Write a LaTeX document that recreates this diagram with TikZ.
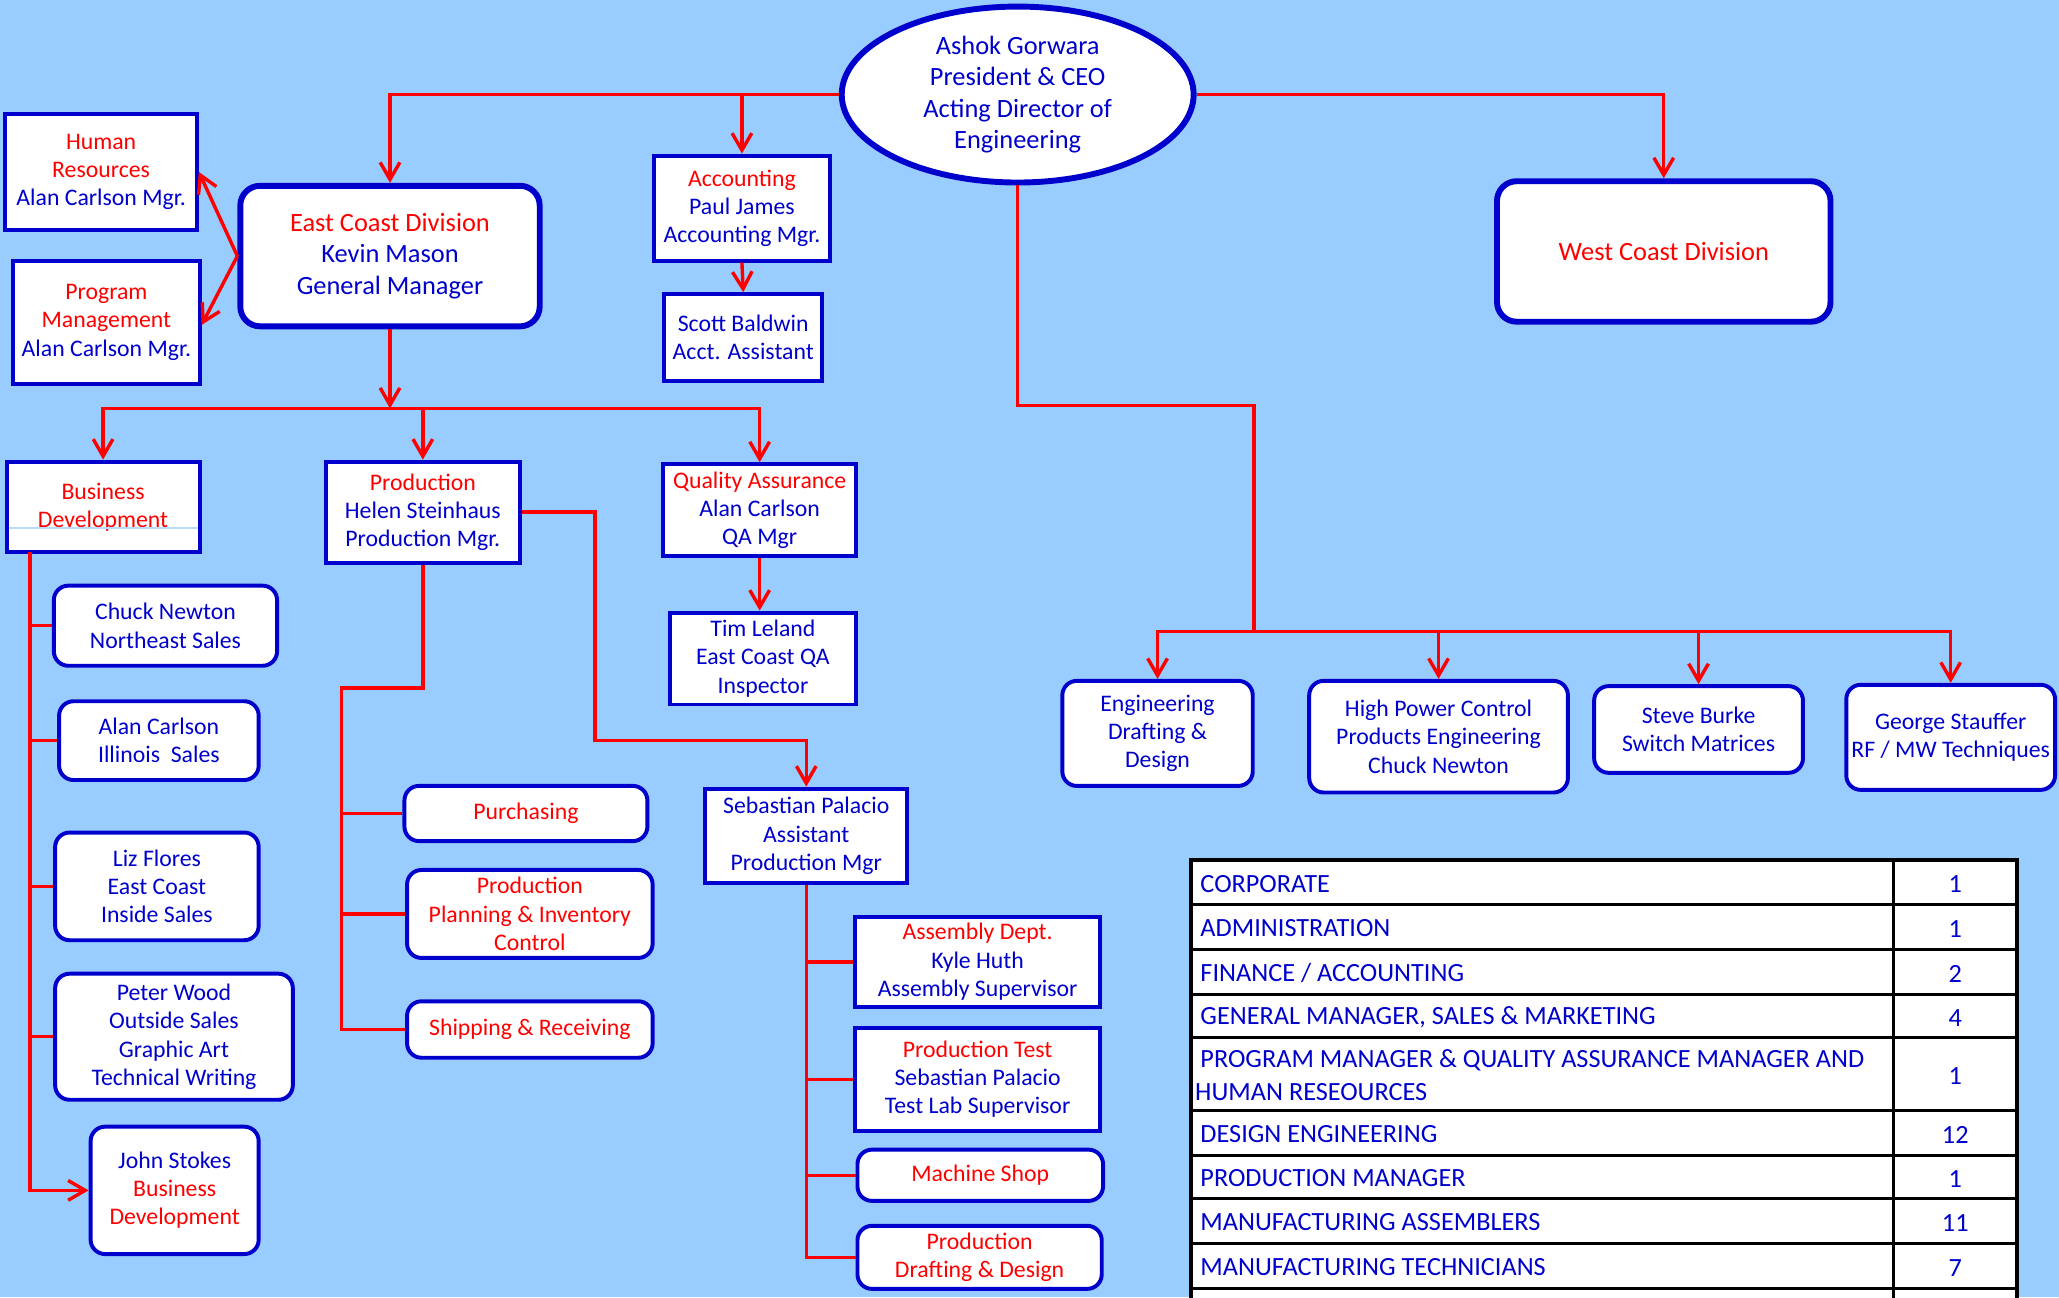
\documentclass[tikz,border=0pt]{standalone}
\usepackage{fontspec}
\setmainfont{Carlito}
\usetikzlibrary{arrows.meta,shapes.geometric}
\definecolor{bg}{RGB}{153,204,255}
\definecolor{bl}{RGB}{0,0,204}
\definecolor{rd}{RGB}{255,0,0}
\newcommand\smallfnt{\fontsize{18.1}{21.5}\selectfont}
\newcommand\bigfnt{\fontsize{20.1}{24}\selectfont}
\newcommand\tabfnt{\fontsize{20}{25}\selectfont}
\newcommand\redtx[1]{\textcolor{rd}{#1}}
\begin{document}
\begin{tikzpicture}[x=1pt,y=-1pt,
  sqbox/.style={draw=bl,line width=3,fill=white,inner sep=0,align=center,text=bl,font=\smallfnt},
  rndbox/.style={sqbox,rounded corners=11},
  bigbox/.style={sqbox,line width=4.5,rounded corners=15,font=\bigfnt},
  con/.style={draw=rd,line width=2.6},
  arr/.style={con,-{Straight Barb[length=13pt,width=15pt]}},
  tline/.style={draw=black,line width=2.2},
  ttxt/.style={anchor=west,text=bl,font=\tabfnt,inner sep=0,align=left},
  tnum/.style={text=bl,font=\tabfnt,inner sep=0}]
\useasboundingbox (0,0) rectangle (1568,988);
\clip (0,0) rectangle (1568,988);
\fill[bg] (0,0) rectangle (1568,988);

% top level
\node[ellipse,draw=bl,line width=4.5,fill=white,minimum width=268,minimum height=134,inner sep=0,
      font=\bigfnt,text=bl,align=center] (ceo) at (775,72)
  {Ashok Gorwara\\President \& CEO\\Acting Director of\\Engineering};
\node[bigbox,minimum width=228,minimum height=107] (ecd) at (297,195)
  {\redtx{East Coast Division}\\Kevin Mason\\General Manager};
\node[bigbox,minimum width=254,minimum height=107] (wcd) at (1267,191.5)
  {\redtx{West Coast Division}};
\node[sqbox,minimum width=146,minimum height=88] (hr) at (77,131)
  {\redtx{Human}\\\redtx{Resources}\\Alan Carlson Mgr.};
\node[sqbox,minimum width=142,minimum height=94] (pm) at (81,245.5)
  {\redtx{Program}\\\redtx{Management}\\Alan Carlson Mgr.};
\node[sqbox,minimum width=134,minimum height=80] (acc) at (565,158.5)
  {\redtx{Accounting}\\Paul James\\Accounting Mgr.};
\node[sqbox,minimum width=120,minimum height=66] (sb) at (566,257)
  {Scott Baldwin\\Acct. Assistant};

% second level
\node[sqbox,minimum width=147,minimum height=69] (bd) at (78.5,386)
  {\redtx{Business}\\\redtx{Development}};
\draw[bg!70!white,line width=1] ([xshift=3]bd.west |- 0,402) -- ([xshift=-3]bd.east |- 0,402);
\node[sqbox,minimum width=148,minimum height=77] (prod) at (322,390)
  {\redtx{Production}\\Helen Steinhaus\\Production Mgr.};
\node[sqbox,minimum width=147,minimum height=70] (qa) at (578.5,388.5)
  {\redtx{Quality Assurance}\\Alan Carlson\\QA Mgr};
\node[sqbox,minimum width=142,minimum height=70] (tim) at (581,501.5)
  {Tim Leland\\East Coast QA\\Inspector};

% business development children
\node[rndbox,minimum width=170,minimum height=61] (cn) at (126,476.5) {Chuck Newton\\Northeast Sales};
\node[rndbox,minimum width=152,minimum height=60] (ac) at (121,564) {Alan Carlson\\Illinois\ \ Sales};
\node[rndbox,minimum width=155,minimum height=82] (lf) at (119.5,675) {Liz Flores\\East Coast\\Inside Sales};
\node[rndbox,minimum width=181,minimum height=96] (pw) at (132.5,789.5)
  {Peter Wood\\Outside Sales\\Graphic Art\\Technical Writing};
\node[rndbox,minimum width=128,minimum height=97] (js) at (133,906.5)
  {John Stokes\\\redtx{Business}\\\redtx{Development}};

% production children
\node[rndbox,minimum width=185,minimum height=42] (purch) at (400.5,619.5) {\redtx{Purchasing}};
\node[rndbox,minimum width=187,minimum height=67] (ppic) at (403.5,696)
  {\redtx{Production}\\\redtx{Planning \& Inventory}\\\redtx{Control}};
\node[rndbox,minimum width=187,minimum height=43] (ship) at (403.5,784) {\redtx{Shipping \& Receiving}};
\node[sqbox,minimum width=154,minimum height=72] (sp) at (614,636.5)
  {Sebastian Palacio\\Assistant\\Production Mgr};
\node[sqbox,minimum width=187,minimum height=68] (asm) at (744.5,732.5)
  {\redtx{Assembly Dept.}\\Kyle Huth\\Assembly Supervisor};
\node[sqbox,minimum width=187,minimum height=79] (pt) at (744.5,822)
  {\redtx{Production Test}\\Sebastian Palacio\\Test Lab Supervisor};
\node[rndbox,minimum width=187,minimum height=39] (ms) at (746.5,895) {\redtx{Machine Shop}};
\node[rndbox,minimum width=186,minimum height=48] (pdd) at (746,957.5)
  {\redtx{Production}\\\redtx{Drafting \& Design}};

% engineering
\node[rndbox,minimum width=145,minimum height=80] (edd) at (881.5,558.5) {Engineering\\Drafting \&\\Design};
\node[rndbox,minimum width=197,minimum height=85] (hpc) at (1095.5,561)
  {High Power Control\\Products Engineering\\Chuck Newton};
\node[rndbox,minimum width=159,minimum height=66] (sbk) at (1293.5,555.5) {Steve Burke\\Switch Matrices};
\node[rndbox,minimum width=159,minimum height=80] (gs) at (1485.5,561.5) {George Stauffer\\RF / MW Techniques};

% connectors from CEO
\coordinate (jA) at (565,72);
\draw[arr] (ceo.west) -| (ecd.north);
\draw[arr] (jA) -- (acc.north);
\draw[arr] (ceo.east) -| (wcd.north);
\coordinate (jE) at (955,309);
\coordinate (eBar) at (955,481);
\draw[con] (ceo.south) |- (jE) -- (eBar);
\draw[arr] (eBar) -| (edd.north);
\draw[arr] (eBar) -| (gs.north);
\draw[arr] (hpc.north |- eBar) -- (hpc.north);
\draw[arr] (sbk.north |- eBar) -- (sbk.north);

% East coast division
\draw[arr] (ecd.west) -- (hr.east);
\draw[arr] (ecd.west) -- ([yshift=-2]pm.east);
\draw[arr] (acc.south) -- (sb.north);
\coordinate (ecdBar) at (297,311);
\draw[arr] (ecd.south) -- (ecdBar);
\draw[arr] (ecdBar) -| (bd.north);
\draw[arr] (ecdBar) -| (qa.north);
\draw[arr] (prod.north |- ecdBar) -- (prod.north);
\draw[arr] (qa.south) -- (qa.south |- tim.north);

% business development tree
\coordinate (bdTop) at (23,420);
\draw[con] (bdTop) |- (cn.west);
\draw[con] (bdTop) |- (ac.west);
\draw[con] (bdTop) |- (lf.west);
\draw[con] (bdTop) |- (pw.west);
\draw[arr] (bdTop) |- (js.west);

% production tree
\coordinate (pJ) at (260,524);
\draw[con] (prod.south) |- (pJ) |- (ship.west);
\draw[con] (pJ) |- (purch.west);
\draw[con] (pJ) |- (ppic.west);
\coordinate (pX) at (453,564);
\draw[arr] (prod.east) -| (pX) -| (sp.north);
\draw[con] (sp.south) |- (asm.west);
\draw[con] (sp.south) |- (pt.west);
\draw[con] (sp.south) |- (ms.west);
\draw[con] (sp.south) |- (pdd.west);

% table
\fill[white] (907,655) rectangle (1536,1000);
\foreach \yy in {689,723,757,790,846,880,913,947,981}
  \draw[tline] (907,\yy) -- (1536,\yy);
\draw[tline] (1442,655) -- (1442,1000);
\draw[draw=black,line width=3] (907,1000) -- (907,655) -- (1536,655) -- (1536,1000);
\node[ttxt] (r1) at (914,673) {CORPORATE};
\node[ttxt] (r2) at (914,707) {ADMINISTRATION};
\node[ttxt] (r3) at (914,741) {FINANCE / ACCOUNTING};
\node[ttxt] (r4) at (914,774.5) {GENERAL MANAGER, SALES \& MARKETING};
\node[ttxt] (r5) at (910,819) {\hspace*{4pt}PROGRAM MANAGER \& QUALITY ASSURANCE MANAGER AND\\HUMAN RESEOURCES};
\node[ttxt] (r6) at (914,864) {DESIGN ENGINEERING};
\node[ttxt] (r7) at (914,897.5) {PRODUCTION MANAGER};
\node[ttxt] (r8) at (914,931) {MANUFACTURING ASSEMBLERS};
\node[ttxt] (r9) at (914,965) {MANUFACTURING TECHNICIANS};
\node[tnum] (n1) at (1489,673.5) {1};
\node[tnum] (n2) at (1489,707.5) {1};
\node[tnum] (n3) at (1489,741.5) {2};
\node[tnum] (n4) at (1489,775) {4};
\node[tnum] (n5) at (1489,819.5) {1};
\node[tnum] (n6) at (1489,864.5) {12};
\node[tnum] (n7) at (1489,898) {1};
\node[tnum] (n8) at (1489,931.5) {11};
\node[tnum] (n9) at (1489,965.5) {7};
\end{tikzpicture}
\end{document}
